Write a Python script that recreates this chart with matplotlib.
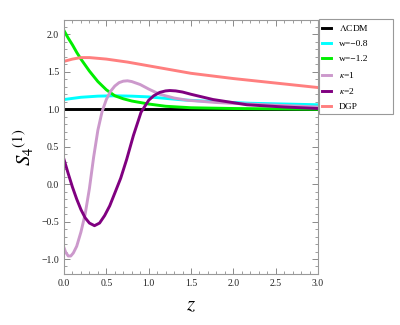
import matplotlib
matplotlib.use('Agg')
import matplotlib.pyplot as plt
from matplotlib.ticker import MultipleLocator
from matplotlib.patches import Rectangle

plt.rcParams['font.family'] = ['Liberation Serif', 'DejaVu Serif']
plt.rcParams['mathtext.fontset'] = 'stix'

# Lambda CDM
z_lcdm = [0.0, 3.0]
s_lcdm = [1.0, 1.0]

# w = -0.8
z_w08 = [0.0, 0.2, 0.4, 0.6, 0.8, 1.0, 1.2, 1.4, 1.8, 2.2, 2.6, 3.0]
s_w08 = [1.13, 1.16, 1.175, 1.18, 1.175, 1.165, 1.145, 1.125, 1.10, 1.08, 1.07, 1.06]

# w = -1.2
z_w12 = [0.0, 0.05, 0.1, 0.15, 0.2, 0.25, 0.3, 0.35, 0.4, 0.5, 0.6, 0.7, 0.8, 1.0, 1.2,
         1.5, 2.0, 2.5, 3.0]
s_w12 = [2.05, 1.95, 1.86, 1.76, 1.67, 1.59, 1.51, 1.44, 1.37, 1.26, 1.18, 1.14, 1.11, 1.07, 1.04,
         1.02, 1.01, 1.005, 1.0]

# kappa = 1
z_k1 = [0.0, 0.02, 0.05, 0.08, 0.11, 0.15, 0.2, 0.25, 0.3, 0.35, 0.4, 0.45, 0.5, 0.55,
        0.6, 0.65, 0.7, 0.75, 0.8, 0.9, 1.0, 1.13, 1.3, 1.46, 1.8, 2.16, 2.6, 3.0]
s_k1 = [-0.85, -0.91, -0.96, -0.96, -0.92, -0.83, -0.64, -0.40, -0.06, 0.36, 0.72, 0.97, 1.13, 1.24,
        1.31, 1.355, 1.375, 1.38, 1.37, 1.33, 1.27, 1.20, 1.15, 1.12, 1.09, 1.07, 1.05, 1.03]

# kappa = 2
z_k2 = [0.0, 0.05, 0.1, 0.15, 0.2, 0.25, 0.3, 0.36, 0.42, 0.48, 0.54, 0.6, 0.67, 0.74,
        0.82, 0.91, 1.0, 1.06, 1.13, 1.2, 1.25, 1.32, 1.4, 1.5, 1.76, 2.16, 2.6, 3.0]
s_k2 = [0.33, 0.14, -0.04, -0.2, -0.34, -0.45, -0.52, -0.555, -0.52, -0.42, -0.29, -0.12, 0.08, 0.33,
        0.65, 0.96, 1.12, 1.18, 1.225, 1.245, 1.25, 1.245, 1.23, 1.20, 1.13, 1.06, 1.03, 1.01]

# DGP
z_dgp = [0.0, 0.1, 0.2, 0.3, 0.5, 0.75, 1.0, 1.25, 1.5, 1.75, 2.0, 2.25, 2.5, 2.75, 3.0]
s_dgp = [1.64, 1.67, 1.69, 1.69, 1.67, 1.63, 1.58, 1.53, 1.48, 1.445, 1.41, 1.38, 1.35, 1.32, 1.29]

labels = [r'$\Lambda$CDM', 'w=−0.8', 'w=−1.2', r'$\kappa$=1', r'$\kappa$=2', 'DGP']
colors = ['black', '#00ffff', '#00ee00', '#cc99cc', '#800080', '#ff7f7f']

fig = plt.figure(figsize=(4.0, 3.25), dpi=100)
ax = fig.add_axes([0.16, 0.157, 0.635, 0.781])

lw = 2.1
series = [(z_lcdm, s_lcdm), (z_w08, s_w08), (z_w12, s_w12),
          (z_k1, s_k1), (z_k2, s_k2), (z_dgp, s_dgp)]
for (zz, ss), lab, col in zip(series, labels, colors):
    ax.plot(zz, ss, color=col, lw=lw, label=lab)

ax.set_xlim(0, 3.0)
ax.set_ylim(-1.2, 2.19)
ax.xaxis.set_major_locator(MultipleLocator(0.5))
ax.xaxis.set_minor_locator(MultipleLocator(0.1))
ax.yaxis.set_major_locator(MultipleLocator(0.5))
ax.yaxis.set_minor_locator(MultipleLocator(0.1))
fmt = plt.FuncFormatter(lambda v, p: ('%.1f' % v).replace('-', '−'))
ax.xaxis.set_major_formatter(fmt)
ax.yaxis.set_major_formatter(fmt)

for s in ax.spines.values():
    s.set_color('#999999')
    s.set_linewidth(0.8)
ax.tick_params(which='both', direction='in', top=True, right=True, color='#777777',
               labelsize=7, labelcolor='#222222')
ax.tick_params(which='major', length=4, width=0.6)
ax.tick_params(which='minor', length=2, width=0.5)

ax.set_xlabel(r'$z$', fontsize=15, labelpad=6)
ax.set_ylabel(r'$S_4{}^{(1)}$', fontsize=15, labelpad=4)

# legend outside, Mathematica-style box
leg = fig.legend(loc='upper left', bbox_to_anchor=(0.805, 0.928), fontsize=6.8,
                 handlelength=1.0, handletextpad=0.8, borderaxespad=0, borderpad=0,
                 frameon=False, labelspacing=0.68)
fig.patches.append(Rectangle((0.798, 0.649), 0.184, 0.292, transform=fig.transFigure,
                             fill=False, edgecolor='#999999', lw=0.8))

fig.savefig('out.png', dpi=100)
